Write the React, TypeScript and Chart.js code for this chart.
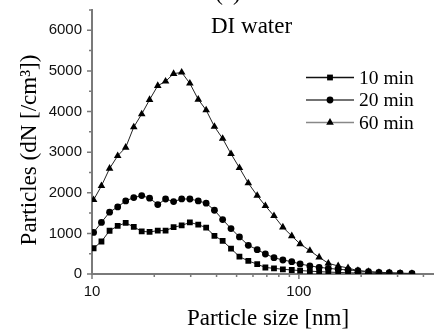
import React, { useEffect, useRef } from 'react';
import { Chart, registerables } from 'chart.js';

Chart.register(...registerables);

// Particle sizes [nm]
const sizes = [10.18, 11.11, 12.16, 13.31, 14.55, 15.92, 17.39, 18.98, 20.79, 22.68, 24.8, 27.13, 29.72, 32.63, 35.63, 39.07, 42.81, 46.99, 51.6, 56.96, 62.89, 68.89, 75.81, 83.69, 92.39, 101.4, 113.0, 125.3, 138.8, 154.9, 172.9, 192.9, 217.0, 243.8, 273.4, 308.6, 352.0];

const min10 = [634, 800, 1065, 1184, 1258, 1160, 1050, 1035, 1068, 1068, 1152, 1195, 1270, 1215, 1140, 940, 818, 625, 427, 321, 243, 160, 140, 116, 99, 85, 70, 58, 48, 38, 30, 24, 18, 14, 10, 7, 5];
const min20 = [1024, 1270, 1522, 1652, 1800, 1882, 1931, 1867, 1710, 1846, 1783, 1848, 1846, 1800, 1743, 1570, 1340, 1118, 912, 706, 600, 493, 402, 345, 303, 247, 200, 165, 140, 116, 99, 81, 57, 42, 32, 20, 15];
const min60 = [1825, 2170, 2597, 2910, 3115, 3618, 3938, 4291, 4636, 4742, 4932, 4964, 4693, 4298, 4035, 3629, 3334, 2959, 2614, 2237, 1931, 1677, 1430, 1152, 937, 740, 575, 412, 264, 197, 148, 81, 57, 32, 25, 17, 7];

const seriesLabels = ['10 min', '20 min', '60 min'];
const xMajorTicks = [10, 100];
const xMinorTicks = [20, 30, 40, 50, 60, 70, 80, 90, 200, 300, 400];
const yMajorTicks = [0, 1000, 2000, 3000, 4000, 5000, 6000];
const yMinorTicks = [500, 1500, 2500, 3500, 4500, 5500, 6500];

const xTitle = 'Particle size [nm]';
const yTitle = 'Particles (dN [/cm³])';
const panelLabel = '(a)';
const subTitle = 'DI water';

const AXIS_COLOR = '#7a7a7a';
const LINE_COLOR = '#222';
const MARK_COLOR = '#000';
const SERIF = '"Liberation Serif", "Times New Roman", serif';
const SANS = '"Liberation Sans", Arial, sans-serif';

const styles = [
  { pointStyle: 'rect', radius: 4.1 },
  { pointStyle: 'circle', radius: 3.4 },
  { pointStyle: 'triangle', radius: 4.4 },
];
const legendLineColors = ['#111', '#444', '#888'];

function drawMarker(ctx: CanvasRenderingContext2D, style: string, r: number, x: number, y: number) {
  ctx.beginPath();
  if (style === 'rect') {
    const s = Math.SQRT1_2 * r;
    ctx.rect(x - s, y - s, 2 * s, 2 * s);
  } else if (style === 'circle') {
    ctx.arc(x, y, r, 0, Math.PI * 2);
  } else {
    let rad = 0;
    ctx.moveTo(x + Math.sin(rad) * r, y - Math.cos(rad) * r);
    rad += (2 * Math.PI) / 3;
    ctx.lineTo(x + Math.sin(rad) * r, y - Math.cos(rad) * r);
    rad += (2 * Math.PI) / 3;
    ctx.lineTo(x + Math.sin(rad) * r, y - Math.cos(rad) * r);
    ctx.closePath();
  }
  ctx.fill();
}

const overlayPlugin = {
  id: 'overlay',
  afterDraw(chart: any) {
    const ctx: CanvasRenderingContext2D = chart.ctx;
    const xs = chart.scales.x;
    const ys = chart.scales.y;
    const { left, bottom } = chart.chartArea;
    ctx.save();
    ctx.strokeStyle = AXIS_COLOR;
    ctx.lineWidth = 1.5;
    ctx.beginPath();
    const xt = (v: number, len: number) => {
      const px = xs.getPixelForValue(v);
      ctx.moveTo(px, bottom);
      ctx.lineTo(px, bottom + len);
    };
    const yt = (v: number, len: number) => {
      const py = ys.getPixelForValue(v);
      ctx.moveTo(left, py);
      ctx.lineTo(left - len, py);
    };
    xMajorTicks.forEach((v) => xt(v, 5));
    xMinorTicks.forEach((v) => xt(v, 3));
    yMajorTicks.forEach((v) => yt(v, 5));
    yMinorTicks.forEach((v) => yt(v, 3));
    ctx.stroke();

    // titles
    ctx.fillStyle = '#000';
    ctx.font = `23px ${SERIF}`;
    ctx.textAlign = 'center';
    ctx.textBaseline = 'alphabetic';
    ctx.fillText(xTitle, 268, 325);
    ctx.fillText(panelLabel, 228, 0);
    ctx.save();
    ctx.translate(36, 150);
    ctx.rotate(-Math.PI / 2);
    ctx.fillText(yTitle, 0, 0);
    ctx.restore();
    ctx.textAlign = 'left';
    ctx.fillText(subTitle, 211, 33);

    // legend
    const rowsY = [77.5, 100, 122.5];
    ctx.font = `19.5px ${SERIF}`;
    seriesLabels.forEach((lab, i) => {
      const y = rowsY[i];
      ctx.strokeStyle = legendLineColors[i];
      ctx.lineWidth = 1.5;
      ctx.beginPath();
      ctx.moveTo(306, y);
      ctx.lineTo(354, y);
      ctx.stroke();
      ctx.fillStyle = MARK_COLOR;
      drawMarker(ctx, styles[i].pointStyle, styles[i].radius, 330, y);
      ctx.fillStyle = '#000';
      ctx.fillText(lab, 359, y + 6);
    });
    ctx.restore();
  },
};

export default function App() {
  const ref = useRef<HTMLCanvasElement>(null);
  useEffect(() => {
    document.body.style.margin = '0';
    const canvas = ref.current;
    if (!canvas) return;
    const series = [min10, min20, min60];
    const chart = new Chart(canvas, {
      type: 'line',
      data: {
        datasets: series.map((vals, i) => ({
          label: seriesLabels[i],
          data: vals.map((v, k) => ({ x: sizes[k], y: v })),
          borderColor: LINE_COLOR,
          borderWidth: 1,
          backgroundColor: MARK_COLOR,
          pointBackgroundColor: MARK_COLOR,
          pointBorderWidth: 0,
          pointStyle: styles[i].pointStyle as any,
          pointRadius: styles[i].radius,
          tension: 0,
          fill: false,
          order: 2 - i,
        })),
      },
      options: {
        animation: false,
        responsive: false,
        devicePixelRatio: 1,
        layout: { padding: { top: 10, right: 0, left: 0, bottom: 0 } },
        plugins: { legend: { display: false }, tooltip: { enabled: false }, title: { display: false } },
        scales: {
          x: {
            type: 'logarithmic',
            min: 10,
            max: 448,
            grid: { display: false, drawTicks: false },
            border: { display: true, color: AXIS_COLOR, width: 2 },
            afterBuildTicks: (scale: any) => {
              scale.ticks = [...xMajorTicks, ...xMinorTicks].sort((a, b) => a - b).map((v) => ({ value: v }));
            },
            afterFit: (scale: any) => {
              scale.height = 57;
              scale.paddingLeft = 0;
              scale.paddingRight = 0;
              scale.paddingTop = 0;
              scale.paddingBottom = 0;
            },
            ticks: {
              autoSkip: false,
              maxRotation: 0,
              padding: 9,
              color: '#111',
              font: { family: SANS, size: 15 },
              callback: (v: any) => (xMajorTicks.includes(Number(v)) ? String(v) : ''),
            },
          },
          y: {
            type: 'linear',
            min: 0,
            max: 6500,
            grid: { display: false, drawTicks: false },
            border: { display: true, color: AXIS_COLOR, width: 2 },
            afterBuildTicks: (scale: any) => {
              scale.ticks = yMajorTicks.map((v) => ({ value: v }));
            },
            afterFit: (scale: any) => {
              scale.width = 92;
              scale.paddingLeft = 0;
              scale.paddingRight = 0;
              scale.paddingTop = 0;
              scale.paddingBottom = 0;
            },
            ticks: {
              autoSkip: false,
              padding: 10,
              color: '#111',
              font: { family: SANS, size: 15 },
              callback: (v: any) => String(v),
            },
          },
        },
      },
      plugins: [overlayPlugin],
    });
    return () => chart.destroy();
  }, []);
  return <canvas ref={ref} width={438} height={331} style={{ display: 'block' }} />;
}
